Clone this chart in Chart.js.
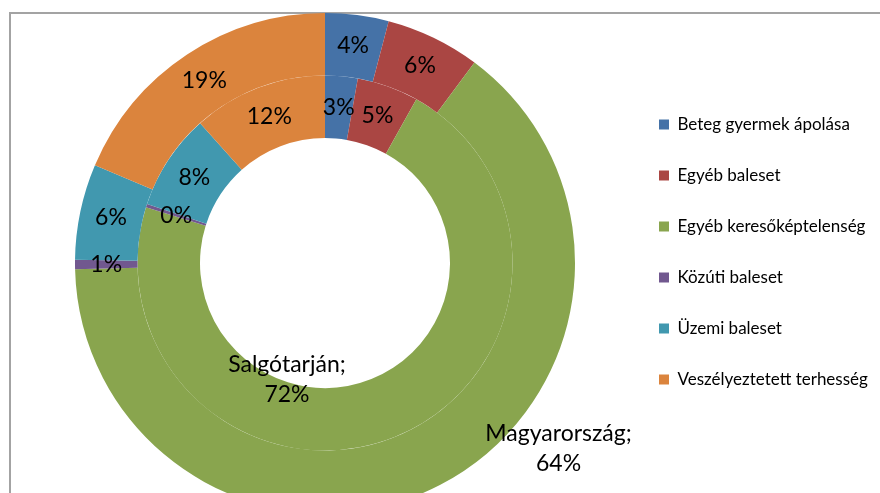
<!DOCTYPE html>
<html>
<head>
<meta charset="utf-8">
<script src="https://cdn.jsdelivr.net/npm/chart.js@4"></script>
<style>
    html, body { margin: 0; padding: 0; background: #fff; overflow: hidden; }
    #wrap { position: relative; width: 880px; height: 493px; }
    #frame { position: absolute; left: 9px; top: 12px; right: 0; bottom: 0; border-top: 2px solid #a3a3a3; border-left: 2px solid #a3a3a3; }
    canvas { position: absolute; left: 0; top: 0; }
</style>
</head>
<body>
<div id="wrap">
    <div id="frame"></div>
    <canvas id="chart" width="880" height="493"></canvas>
</div>
<script>
// kategóriák és értékek (%)
const categories = [
    'Beteg gyermek ápolása',
    'Egyéb baleset',
    'Egyéb keresőképtelenség',
    'Közúti baleset',
    'Üzemi baleset',
    'Veszélyeztetett terhesség'
];
const seriesNames = ['Magyarország', 'Salgótarján'];
const magyarorszag = [4.1, 6.1, 64.4, 0.6, 6.2, 18.6];
const salgotarjan = [2.8, 5.3, 71.7, 0.3, 8.3, 11.6];
const colors = ['#4572A7', '#AA4643', '#89A54E', '#71588F', '#4198AF', '#DB843D'];

const FONT = 'Lato, "Open Sans", sans-serif';

// címkék kirajzolása a szeletekre
const sliceLabels = {
    id: 'sliceLabels',
    afterDatasetsDraw(chart) {
        const ctx = chart.ctx;
        ctx.save();
        ctx.font = '23px ' + FONT;
        ctx.fillStyle = '#000';
        ctx.textAlign = 'center';
        ctx.textBaseline = 'middle';
        chart.data.datasets.forEach((ds, di) => {
            const meta = chart.getDatasetMeta(di);
            const total = ds.data.reduce((a, b) => a + b, 0);
            meta.data.forEach((arc, i) => {
                const pct = Math.round(ds.data[i] / total * 100) + '%';
                const p = arc.getCenterPoint();
                if (i === 2) {
                    // a nagy szeletek címkéje arrébb tolva, sorozatnévvel
                    const off = di === 0 ? [133, -9] : [-96, -29];
                    ctx.fillText(ds.label + ';', p.x + off[0], p.y + off[1] - 15);
                    ctx.fillText(pct, p.x + off[0], p.y + off[1] + 15);
                } else {
                    ctx.fillText(pct, p.x, p.y);
                }
            });
        });
        ctx.restore();
    }
};

// jelmagyarázat szélessége és függőleges helye
const legendBox = {
    id: 'legendBox',
    beforeInit(chart) {
        const fit = chart.legend.fit;
        chart.legend.fit = function () {
            fit.call(this);
            this.width = 255;
        };
    },
    afterLayout(chart) {
        chart.legend.top -= 11;
        chart.legend.bottom -= 11;
    }
};

new Chart(document.getElementById('chart'), {
    type: 'doughnut',
    data: {
        labels: categories,
        datasets: [
            { label: seriesNames[0], data: magyarorszag, backgroundColor: colors, borderWidth: 0 },
            { label: seriesNames[1], data: salgotarjan, backgroundColor: colors, borderWidth: 0 }
        ]
    },
    options: {
        responsive: false,
        animation: false,
        radius: 250,
        cutout: '50%',
        layout: { padding: { left: 25, top: 33, right: 0, bottom: 0 } },
        plugins: {
            legend: {
                position: 'right',
                labels: {
                    boxWidth: 10,
                    boxHeight: 10,
                    padding: 34,
                    color: '#000',
                    font: { family: FONT, size: 17 }
                }
            },
            tooltip: { enabled: false }
        }
    },
    plugins: [sliceLabels, legendBox]
});
</script>
</body>
</html>
